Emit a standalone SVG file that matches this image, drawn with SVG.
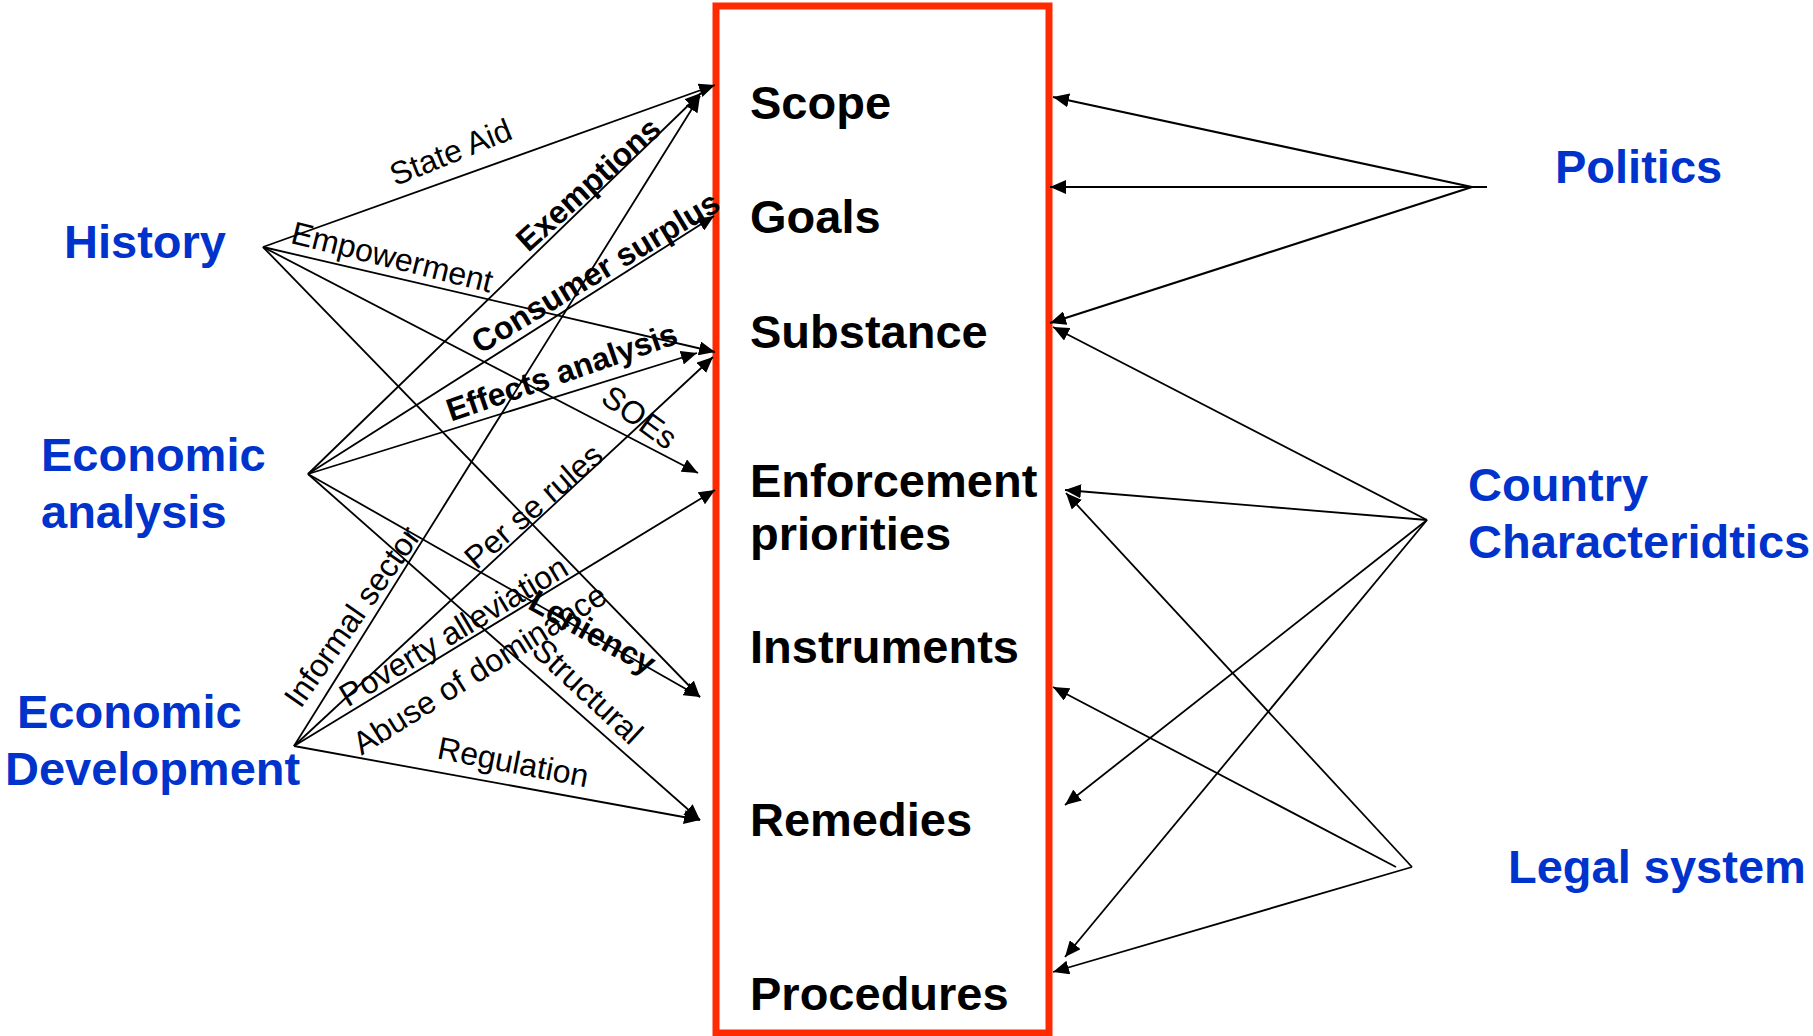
<svg xmlns="http://www.w3.org/2000/svg" width="1813" height="1036" viewBox="0 0 1813 1036">
<style>
.src{font-family:"Liberation Sans",Arial,sans-serif;font-weight:bold;font-size:47px;fill:#0033cc}
.item{font-family:"Liberation Sans",Arial,sans-serif;font-weight:bold;font-size:47px;fill:#000}
.lbl{font-family:"Liberation Sans",Arial,sans-serif;font-size:32px;fill:#000;text-anchor:middle}
.b{font-weight:bold}
.c{stroke:#000;stroke-width:1.8;fill:none;marker-end:url(#ah)}
.p{stroke-width:2.2}
</style>
<defs>
<marker id="ah" markerUnits="userSpaceOnUse" markerWidth="16" markerHeight="14" refX="16" refY="7" orient="auto">
<path d="M0,0 L16,7 L0,14 z" fill="#000"/>
</marker>
</defs>
<rect width="1813" height="1036" fill="#fff"/>

<g id="box">
<rect x="716" y="6" width="333" height="1027" fill="none" stroke="#ff2a00" stroke-width="7"/>
<text class="item" x="750" y="119">Scope</text>
<text class="item" x="750" y="233">Goals</text>
<text class="item" x="750" y="348">Substance</text>
<text class="item" x="750" y="497">Enforcement</text>
<text class="item" x="750" y="550">priorities</text>
<text class="item" x="750" y="663">Instruments</text>
<text class="item" x="750" y="836">Remedies</text>
<text class="item" x="750" y="1010">Procedures</text>
</g>

<g id="history"><text class="src" x="64" y="258">History</text></g>
<g id="economic-analysis"><text class="src" x="41" y="471">Economic</text><text class="src" x="41" y="528">analysis</text></g>
<g id="economic-development"><text class="src" x="17" y="728">Economic</text><text class="src" x="5" y="785">Development</text></g>
<g id="politics"><text class="src" x="1555" y="183">Politics</text></g>
<g id="country"><text class="src" x="1468" y="501">Country</text><text class="src" x="1468" y="558">Characteridtics</text></g>
<g id="legal"><text class="src" x="1508" y="883">Legal system</text></g>

<g id="connectors">
<line class="c" x1="263" y1="247" x2="715" y2="85"/>
<line class="c" x1="263" y1="247" x2="715" y2="352"/>
<line class="c" x1="263" y1="247" x2="698" y2="473"/>
<line class="c" x1="263" y1="247" x2="700" y2="697"/>
<line class="c" x1="308" y1="474" x2="701" y2="93"/>
<line class="c" x1="308" y1="474" x2="714" y2="216"/>
<line class="c" x1="308" y1="474" x2="697" y2="353"/>
<line class="c" x1="308" y1="474" x2="700" y2="697"/>
<line class="c" x1="308" y1="474" x2="700" y2="820"/>
<line class="c" x1="294" y1="746" x2="700" y2="96"/>
<line class="c" x1="294" y1="746" x2="713" y2="357"/>
<line class="c" x1="294" y1="746" x2="715" y2="490"/>
<line class="c" x1="294" y1="746" x2="700" y2="820"/>
<line class="c p" x1="1472" y1="187" x2="1053" y2="97"/>
<line class="c p" x1="1487" y1="187" x2="1050" y2="187"/>
<line class="c p" x1="1472" y1="187" x2="1050" y2="323"/>
<line class="c" x1="1427" y1="520" x2="1053" y2="327"/>
<line class="c" x1="1427" y1="520" x2="1065" y2="490"/>
<line class="c" x1="1427" y1="520" x2="1065" y2="805"/>
<line class="c" x1="1427" y1="520" x2="1065" y2="957"/>
<line class="c" x1="1412" y1="867" x2="1066" y2="493"/>
<line class="c" x1="1396" y1="867" x2="1053" y2="687"/>
<line class="c" x1="1412" y1="867" x2="1053" y2="972"/>
</g>

<g id="connector-labels">
<text class="lbl" transform="translate(451,153) rotate(-22)" dy="10">State Aid</text>
<text class="lbl" transform="translate(392,258) rotate(14)" dy="10">Empowerment</text>
<text class="lbl b" transform="translate(589,185) rotate(-42)" dy="10">Exemptions</text>
<text class="lbl b" transform="translate(596,273) rotate(-31)" dy="10">Consumer surplus</text>
<text class="lbl b" transform="translate(562,373) rotate(-19)" dy="10">Effects analysis</text>
<text class="lbl" transform="translate(639,418) rotate(36)" dy="10">SOEs</text>
<text class="lbl" transform="translate(534,507) rotate(-41)" dy="10">Per se rules</text>
<text class="lbl" transform="translate(353,617) rotate(-55)" dy="10">Informal sector</text>
<text class="lbl" transform="translate(454,632) rotate(-31)" dy="10">Poverty alleviation</text>
<text class="lbl b" transform="translate(592,633) rotate(29)" dy="10">Leniency</text>
<text class="lbl" transform="translate(480,670) rotate(-32)" dy="10">Abuse of dominance</text>
<text class="lbl" transform="translate(587,692) rotate(43)" dy="10">Structural</text>
<text class="lbl" transform="translate(513,763) rotate(11)" dy="10">Regulation</text>
</g>
</svg>
